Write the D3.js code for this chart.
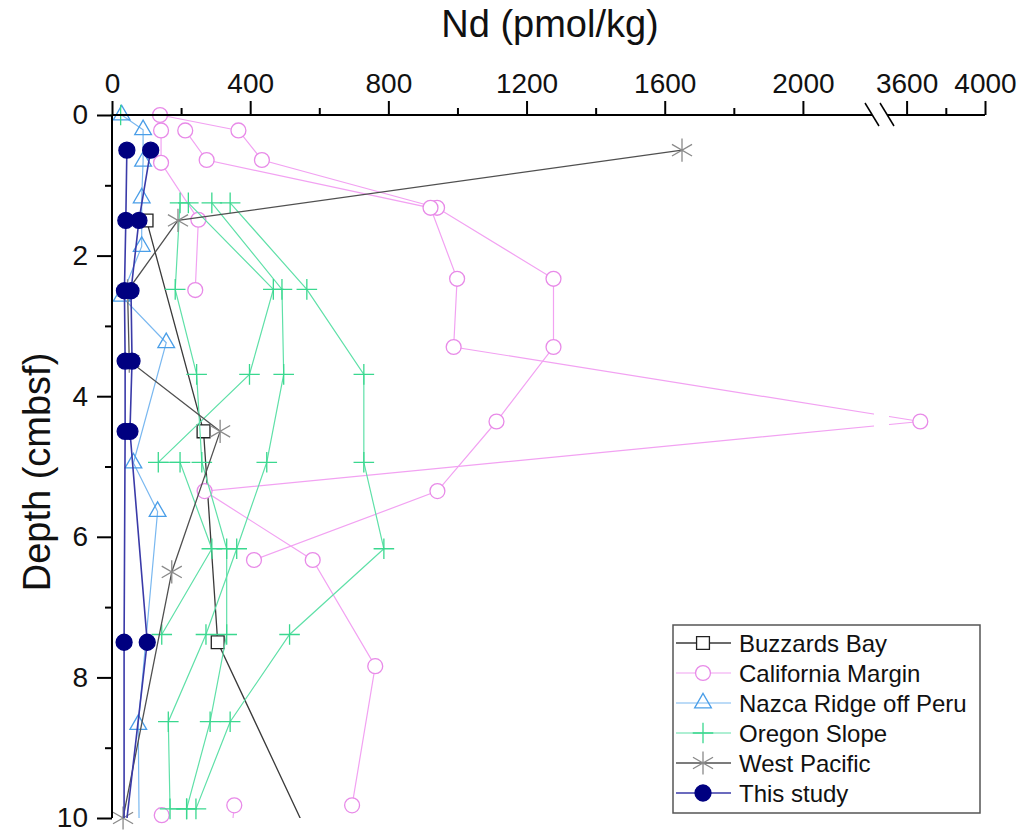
<!DOCTYPE html>
<html>
<head>
<meta charset="utf-8">
<script src="https://cdn.jsdelivr.net/npm/d3@7"></script>
<style>
  body { margin: 0; background: #fff; }
  svg { font-family: "Liberation Sans", Arial, sans-serif; }
</style>
</head>
<body>
<div id="chart"></div>
<script>
// each series = list of profiles, each profile = [Nd value, depth]
const buzzardsBay = [
  [[100, 1.5], [265, 4.5], [306, 7.5], [640, 11]]
];
const californiaMargin = [
  [[139, 0], [366, 0.22], [434, 0.64], [941, 1.32], [1278, 2.33], [1278, 3.3], [1113, 4.36], [942, 5.35], [411, 6.33]],
  [[212, 0.22], [274, 0.64], [922, 1.32], [999, 2.33], [989, 3.3], [3670, 4.36], [268, 5.35], [581, 6.33], [762, 7.84], [695, 9.82]],
  [[142, 0.22], [142, 0.68], [250, 1.49], [241, 2.49]],
  [[354, 9.82], [330, 11]],
  [[144, 9.96]]
];
const nazcaRidge = [
  [[28, 0], [90, 0.21], [90, 0.66], [86, 1.18], [86, 1.87], [28, 2.58], [157, 3.24], [62, 4.95], [132, 5.64], [76, 8.67], [80, 11]]
];
const oregonSlope = [
  [[25, 0]],
  [[197, 1.25], [183, 2.48], [245, 3.69], [260, 4.94], [332, 6.17], [332, 7.39], [284, 8.63], [216, 9.87]],
  [[221, 1.25], [467, 2.48], [398, 3.69], [134, 4.94], [197, 4.94], [289, 6.17], [144, 7.39]],
  [[289, 1.25], [492, 2.48], [497, 3.69], [448, 4.94], [361, 6.17], [272, 7.39], [163, 8.63], [168, 9.87], [216, 9.87]],
  [[342, 1.25], [564, 2.48], [729, 3.69], [729, 4.94], [787, 6.17], [514, 7.39], [342, 8.63], [243, 9.87]]
];
const westPacific = [
  [[1650, 0.5], [191, 1.5], [45, 2.5], [50, 3.5], [313, 4.5], [173, 6.5], [32, 10]]
];
const thisStudy = [
  [[43, 0.5], [40, 1.5], [36, 2.5], [38, 3.5], [38, 4.5], [35, 7.5], [35, 11]],
  [[112, 0.5], [78, 1.5], [55, 2.5], [58, 3.5], [52, 4.5], [102, 7.5], [20, 11]]
];

const xMajor = [0, 400, 800, 1200, 1600, 2000, 3600, 4000];
const xMinor = [200, 600, 1000, 1400, 1800, 3800];
const yMajor = [0, 2, 4, 6, 8, 10];
const yMinor = [1, 3, 5, 7, 9];

var series = [
  { name: "Buzzards Bay", data: buzzardsBay, symbol: d3.symbolSquare2, size: 210,
    line: "#3a3a3a", stroke: "#222", fill: "#fff", lw: 1.3 },
  { name: "California Margin", data: californiaMargin, symbol: d3.symbolCircle, size: 175,
    line: "#f2a2f2", stroke: "#e88ae8", fill: "#fff", lw: 1.2 },
  { name: "Nazca Ridge off Peru", data: nazcaRidge, symbol: d3.symbolTriangle2, size: 200,
    line: "#7ab8f0", stroke: "#4a9ee8", fill: "none", lw: 1.2 },
  { name: "Oregon Slope", data: oregonSlope, symbol: d3.symbolPlus, size: 140,
    line: "#5fe0a8", stroke: "#3ad88f", fill: "none", lw: 1.2 },
  { name: "West Pacific", data: westPacific, symbol: d3.symbolAsterisk, size: 380,
    line: "#505050", stroke: "#8a8a8a", fill: "none", lw: 1.3 },
  { name: "This study", data: thisStudy, symbol: d3.symbolCircle, size: 200,
    line: "#3a3aa8", stroke: "#000080", fill: "#000080", lw: 1.6 }
];

var svg = d3.select("#chart").append("svg")
  .attr("width", 1023).attr("height", 832);

// broken x axis: 0-2200 then 3500-4000
var x = d3.scaleLinear().domain([0, 2200, 3500, 4000]).range([112, 872, 887, 985]);
var y = d3.scaleLinear().domain([0, 10]).range([115, 818]);

svg.append("defs").append("clipPath").attr("id", "plotclip")
  .append("rect").attr("x", 100).attr("y", 95).attr("width", 900).attr("height", 723);

var line = d3.line().x(d => x(d[0])).y(d => y(d[1]));

series.forEach(s => {
  var g = svg.append("g");
  g.append("g").attr("clip-path", "url(#plotclip)")
    .selectAll("path").data(s.data).join("path")
    .attr("d", line)
    .attr("fill", "none")
    .attr("stroke", s.line)
    .attr("stroke-width", s.lw);
  var pts = s.data.flat().filter(d => d[1] <= 10);
  g.selectAll("path.mk").data(pts).join("path")
    .attr("class", "mk")
    .attr("transform", d => "translate(" + x(d[0]) + "," + y(d[1]) + ")")
    .attr("d", d3.symbol().type(s.symbol).size(s.size))
    .attr("fill", s.fill)
    .attr("stroke", s.stroke)
    .attr("stroke-width", 1.3);
  if (s.name == "California Margin") {
    // gap where the lines cross the axis break
    svg.append("rect").attr("x", 874).attr("y", 118).attr("width", 15).attr("height", 700)
      .attr("fill", "#fff");
  }
});

// top axis
var xAxis = svg.append("g").attr("transform", "translate(0,115)");
xAxis.call(d3.axisTop(x).tickValues(xMajor).tickSize(14).tickPadding(8).tickFormat(d3.format("d")));
xAxis.append("g").call(d3.axisTop(x).tickValues(xMinor).tickSize(7).tickFormat(""));
xAxis.selectAll(".domain").remove();
xAxis.selectAll("line").attr("stroke", "#000").attr("stroke-width", 2);
xAxis.selectAll("text").style("font-size", "28px").style("font-family", "Liberation Sans, Arial, sans-serif")
  .attr("fill", "#111");
xAxis.append("line").attr("x1", 112).attr("x2", 872).attr("y1", 0).attr("y2", 0)
  .attr("stroke", "#000").attr("stroke-width", 2);
xAxis.append("line").attr("x1", 887).attr("x2", 985).attr("y1", 0).attr("y2", 0)
  .attr("stroke", "#000").attr("stroke-width", 2);
[872, 887].forEach(cx => {
  xAxis.append("line")
    .attr("x1", cx - 7).attr("y1", -12).attr("x2", cx + 7).attr("y2", 11)
    .attr("stroke", "#000").attr("stroke-width", 1.5);
});

// left axis
var yAxis = svg.append("g").attr("transform", "translate(112,0)");
yAxis.call(d3.axisLeft(y).tickValues(yMajor).tickSize(15).tickPadding(9));
yAxis.append("g").call(d3.axisLeft(y).tickValues(yMinor).tickSize(7).tickFormat(""));
yAxis.selectAll(".domain").attr("stroke", "#000").attr("stroke-width", 2).attr("d", "M0,115V818");
yAxis.selectAll("line").attr("stroke", "#000").attr("stroke-width", 2);
yAxis.selectAll("text").style("font-size", "28px").style("font-family", "Liberation Sans, Arial, sans-serif")
  .attr("fill", "#111");

// titles
svg.append("text").attr("x", 550).attr("y", 37).attr("text-anchor", "middle")
  .style("font-size", "38px").attr("fill", "#111").text("Nd (pmol/kg)");
svg.append("text").attr("transform", "translate(50,472) rotate(-90)").attr("text-anchor", "middle")
  .style("font-size", "38px").attr("fill", "#111").text("Depth (cmbsf)");

// legend
var legend = svg.append("g");
legend.append("rect").attr("x", 673).attr("y", 625).attr("width", 307).attr("height", 188)
  .attr("fill", "#fff").attr("stroke", "#555").attr("stroke-width", 1.5);
series.forEach((s, i) => {
  var ly = 643 + i * 30;
  legend.append("line").attr("x1", 676).attr("x2", 731).attr("y1", ly).attr("y2", ly)
    .attr("stroke", s.line).attr("stroke-width", s.lw);
  legend.append("path")
    .attr("transform", "translate(703," + ly + ")")
    .attr("d", d3.symbol().type(s.symbol).size(s.size))
    .attr("fill", s.fill).attr("stroke", s.stroke).attr("stroke-width", 1.3);
  legend.append("text").attr("x", 739).attr("y", ly + 8.5)
    .style("font-size", "24px").attr("fill", "#111").text(s.name);
});
</script>
</body>
</html>
